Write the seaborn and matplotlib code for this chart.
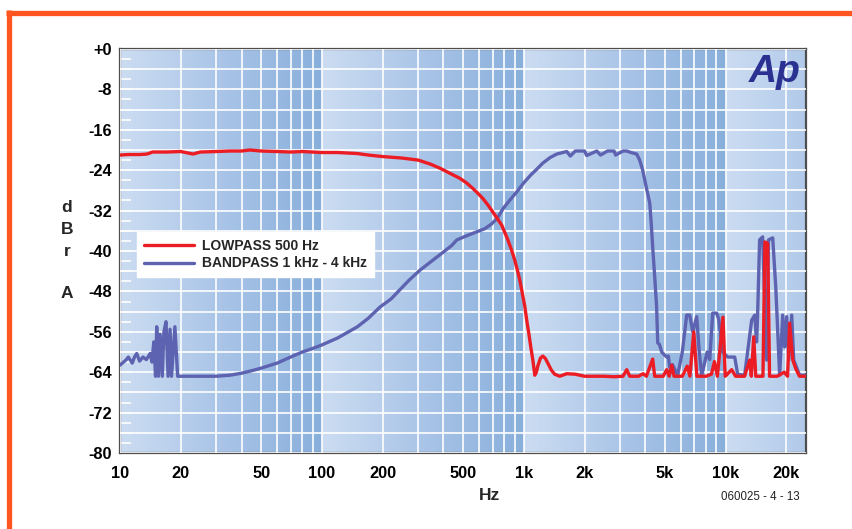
import numpy as np
import matplotlib
matplotlib.use("Agg")
import matplotlib.pyplot as plt
import seaborn as sns
from matplotlib.colors import LinearSegmentedColormap
from matplotlib.ticker import FixedLocator, LogLocator, MultipleLocator, NullFormatter
from matplotlib.lines import Line2D


sns.set_theme(style="white")
plt.rcParams["font.family"] = ["Liberation Sans", "DejaVu Sans"]
plt.rcParams["font.weight"] = "bold"

RED = "#ec1c24"
BLUE = "#5d63b1"
ORANGE = "#ff5520"

# LOWPASS 500 Hz  (freq in Hz, level in dBr A)
lp_freq = [10, 11, 12.5, 13.6, 14.5, 17, 20, 23, 25, 30, 35, 40, 44, 50, 60, 70, 80,
           100, 120, 150, 170, 200, 250, 300, 345, 384, 416, 450, 482, 520, 559, 590,
           627, 665, 703, 740, 778, 834, 870, 902, 930, 955, 985, 1012, 1035, 1059,
           1085, 1109, 1134, 1155, 1173, 1210, 1242, 1280, 1315, 1370, 1423, 1507,
           1633, 1800, 2000, 2200, 2500, 2800, 3100, 3236, 3350, 3700, 3900, 4050,
           4350, 4450, 4900, 5106, 5250, 5408, 5550, 6100, 6450, 6650, 6950, 7200,
           8000, 8500, 8800, 9100, 9700, 9950, 10710, 11200, 12400, 13150, 13400,
           13770, 14100, 15000, 15300, 15650, 16150, 16500, 17000, 18000, 19500,
           20260, 20740, 21500, 22300, 23200, 25000]
lp_db = [-21.0, -20.9, -20.9, -20.8, -20.4, -20.4, -20.3, -20.8, -20.4, -20.3, -20.2,
         -20.2, -20.0, -20.2, -20.3, -20.4, -20.3, -20.5, -20.5, -20.7, -21.0, -21.3,
         -21.6, -22.0, -22.8, -23.6, -24.3, -25.0, -25.6, -26.5, -27.6, -28.5, -29.6,
         -30.9, -32.3, -33.6, -34.9, -37.8, -39.8, -41.8, -43.8, -45.7, -48.5, -51.0,
         -53.8, -56.3, -59.2, -61.6, -64.6, -64.0, -62.8, -61.2, -60.8, -61.3, -62.2,
         -63.6, -64.4, -64.8, -64.3, -64.4, -64.8, -64.8, -64.8, -64.9, -64.8, -63.5,
         -64.8, -64.8, -64.3, -64.8, -61.4, -64.8, -64.8, -63.5, -64.8, -62.6, -64.8,
         -64.8, -62.8, -64.8, -56.0, -64.8, -64.8, -64.4, -61.9, -64.8, -53.1, -64.8,
         -63.5, -64.8, -64.8, -61.6, -64.8, -57.0, -64.8, -64.8, -64.8, -38.2, -38.5,
         -64.8, -64.8, -64.8, -64.0, -64.8, -54.3, -61.6, -63.4, -64.8, -64.8]

# BANDPASS 1 kHz - 4 kHz
bp_freq = [10, 10.4, 10.7, 11.0, 11.5, 11.8, 12.1, 12.5, 13.0, 13.5, 14.1, 14.4,
           14.7, 15.0, 15.2, 15.5, 15.8, 16.2, 16.5, 16.9, 17.3, 17.7, 18.0, 18.7,
           19.3, 20, 25, 30, 35, 40, 45, 50, 60, 70, 80, 90, 100, 120, 150, 170, 194,
           220, 243, 270, 306, 350, 400, 440, 466, 520, 585, 640, 690, 740, 790, 850,
           923, 1000, 1080, 1160, 1242, 1350, 1457, 1633, 1700, 1800, 2000, 2050,
           2300, 2400, 2600, 2800, 2850, 3100, 3236, 3400, 3625, 3750, 3883, 4050,
           4207, 4287, 4350, 4450, 4550, 4608, 4700, 4823, 4950, 5106, 5200, 5281,
           5450, 5785, 6100, 6412, 6637, 6868, 7187, 7400, 7607, 8100, 8337, 8628,
           9023, 9234, 9669, 10234, 11086, 11468, 12414, 12850, 13455, 13930, 14230,
           14390, 14728, 15245, 15965, 16300, 17100, 17700, 18510, 19160, 19600,
           20060, 20530, 21240, 21730, 23240, 25000]
bp_db = [-62.6, -62.0, -61.6, -61.0, -62.2, -61.0, -60.3, -61.8, -61.0, -61.5, -60.3,
         -62.0, -58.0, -64.8, -55.0, -64.8, -56.5, -64.8, -56.0, -54.0, -64.8, -55.5,
         -64.8, -55.0, -64.8, -64.8, -64.8, -64.8, -64.6, -64.2, -63.7, -63.2, -62.2,
         -61.0, -60.0, -59.3, -58.6, -57.2, -55.0, -53.3, -51.1, -49.5, -47.7, -45.8,
         -43.8, -42.0, -40.2, -38.9, -37.8, -37.0, -36.2, -35.6, -34.7, -33.5, -31.6,
         -30.0, -28.3, -26.5, -25.0, -23.8, -22.6, -21.5, -20.8, -20.3, -21.2, -20.2,
         -20.2, -21.1, -20.2, -21.0, -20.2, -20.2, -21.0, -20.2, -20.2, -20.5, -20.8,
         -22.0, -24.0, -27.5, -30.5, -35.0, -39.2, -45.0, -51.1, -58.2, -58.5, -60.0,
         -60.5, -61.0, -60.8, -63.0, -62.5, -64.6, -60.0, -52.7, -52.7, -56.0, -53.0,
         -60.0, -64.6, -60.0, -61.5, -52.3, -52.3, -53.5, -60.0, -61.0, -61.0, -64.4,
         -64.6, -60.0, -53.7, -52.7, -58.0, -53.0, -37.8, -37.2, -61.6, -37.8, -37.4,
         -47.0, -64.6, -52.7, -59.0, -53.0, -61.6, -52.7, -61.6, -64.6, -64.6]

x_ticks = [10, 20, 50, 100, 200, 500, 1000, 2000, 5000, 10000, 20000]
x_labels = ["10", "20", "50", "100", "200", "500", "1k", "2k", "5k", "10k", "20k"]
y_ticks = [0, -8, -16, -24, -32, -40, -48, -56, -64, -72, -80]
y_labels = ["+0", "-8", "-16", "-24", "-32", "-40", "-48", "-56", "-64", "-72", "-80"]


W, H = 853, 529
fig = plt.figure(figsize=(W / 100, H / 100), dpi=100)
ax = fig.add_axes([120 / W, 76 / H, 686 / W, 404 / H])
ax.set_xscale("log")

# shaded background, light to dark across each decade
bg = LinearSegmentedColormap.from_list("bg", ["#cbdcf1", "#a9c4e7", "#88afdb"])
for k in range(1, 5):
    edges = np.logspace(k, k + 1, 80)
    shade = np.linspace(0, 1, 79)[np.newaxis, :]
    ax.pcolormesh(edges, [-80, 0], shade, cmap=bg, vmin=0, vmax=1,
                  shading="flat", zorder=0, rasterized=True)

sns.lineplot(x=bp_freq, y=bp_db, ax=ax, color=BLUE, lw=2.4,
             sort=False, estimator=None, zorder=3)
sns.lineplot(x=lp_freq, y=lp_db, ax=ax, color=RED, lw=2.4,
             sort=False, estimator=None, zorder=4)

ax.set_xlim(10, 25000)
ax.set_ylim(-80, 0)

ax.xaxis.set_major_locator(FixedLocator(x_ticks))
ax.set_xticklabels(x_labels)
ax.xaxis.set_minor_locator(LogLocator(base=10, subs=np.arange(2, 10), numticks=20))
ax.xaxis.set_minor_formatter(NullFormatter())
ax.set_yticks(y_ticks)
ax.set_yticklabels(y_labels)
ax.yaxis.set_minor_locator(MultipleLocator(4))

ax.grid(which="both", color="white", lw=1.2)
ax.set_axisbelow(False)
for gl in ax.get_xgridlines() + ax.get_ygridlines():
    gl.set_zorder(1)
ax.tick_params(which="both", length=0, labelsize=11.8, colors="black")
ax.tick_params(axis="y", pad=6)
ax.tick_params(axis="x", pad=9)
ax.set_xlabel("")
ax.set_ylabel("")

for s in ax.spines.values():
    s.set_visible(True)
    s.set_color("#4d4d4d")
    s.set_linewidth(1.6)

# small white marks every 2 dB along the left edge
sec = ax.secondary_yaxis("left")
sec.yaxis.set_major_locator(MultipleLocator(2))
sec.tick_params(direction="in", color="white", length=8, width=1.2, labelleft=False)
sec.spines["left"].set_visible(False)

handles = [Line2D([], [], color=RED, lw=2.4), Line2D([], [], color=BLUE, lw=2.4)]
ax.legend(handles, ["LOWPASS 500 Hz", "BANDPASS 1 kHz - 4 kHz"],
          loc="upper left", bbox_to_anchor=(0.025, 0.547), borderaxespad=0,
          frameon=True, fancybox=False, framealpha=1, facecolor="white",
          edgecolor="white", fontsize=10, handlelength=3.6, handletextpad=0.6,
          borderpad=0.5, labelspacing=0.25)

ax.text(0.992, 0.918, "Ap", transform=ax.transAxes, ha="right", va="baseline",
        fontsize=28, fontweight="bold", style="italic", color="#2b3190", zorder=5)

for letter, yp in zip(["d", "B", "r", "A"], [208, 230, 252, 294]):
    fig.text(67 / W, 1 - yp / H, letter, ha="center", va="center", fontsize=12.5)

fig.text(490 / W, 1 - 495 / H, "Hz", ha="center", va="center", fontsize=12.5)
fig.text(800 / W, 1 - 497 / H, "060025 - 4 - 13", ha="right", va="center",
         fontsize=8.3, fontweight="normal", color="#222222")

# orange frame, top and left
fig.add_artist(Line2D([6 / W, 1], [1 - 12.5 / H, 1 - 12.5 / H], color=ORANGE,
                      lw=3.8, solid_capstyle="butt", transform=fig.transFigure))
fig.add_artist(Line2D([8.5 / W, 8.5 / W], [0, 1 - 10 / H], color=ORANGE,
                      lw=3.8, solid_capstyle="butt", transform=fig.transFigure))

fig.savefig("out.png", dpi=100)
